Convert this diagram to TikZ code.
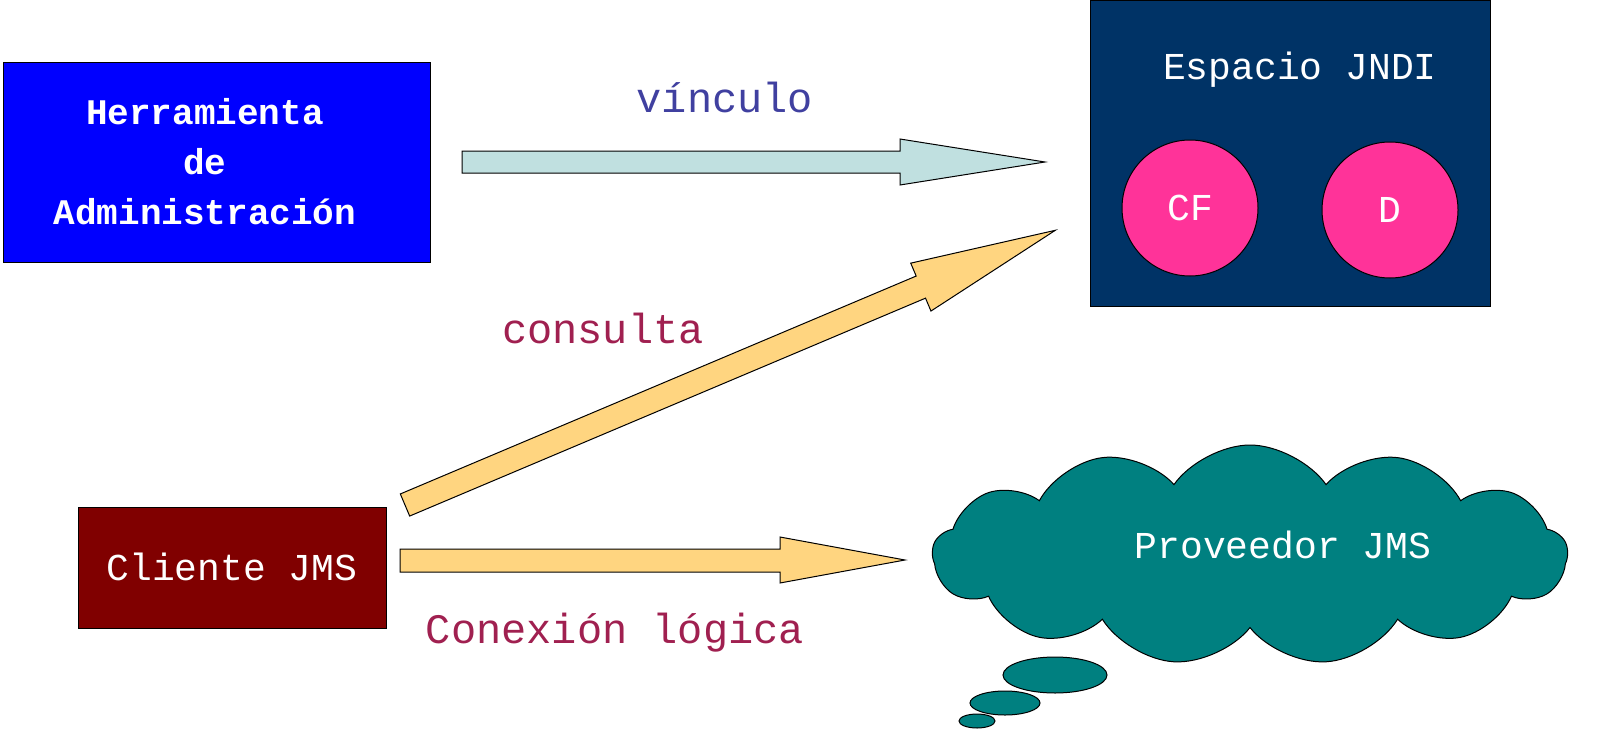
\documentclass[tikz,border=0pt]{standalone}
\usepackage{fontspec}
\setmainfont{Liberation Mono}
\usetikzlibrary{shapes.symbols,shapes.geometric}
\definecolor{adminblue}{HTML}{0000FF}
\definecolor{jndinavy}{HTML}{003366}
\definecolor{circpink}{HTML}{FF3399}
\definecolor{clired}{HTML}{800000}
\definecolor{cyanarrow}{HTML}{C0E0E0}
\definecolor{yelarrow}{HTML}{FFD580}
\definecolor{cloudteal}{HTML}{008080}
\definecolor{lblblue}{HTML}{4040A0}
\definecolor{lblred}{HTML}{A02050}
\tikzset{
  box/.style={draw=black, line width=1pt, inner sep=0},
  wtxt/.style={text=white, font=\fontsize{38}{44}\selectfont, align=center},
  lbl/.style={font=\fontsize{42}{48}\selectfont},
  arr/.style={draw=black, line width=1pt},
}
\begin{document}
\begin{tikzpicture}[x=1pt,y=-1pt]
\useasboundingbox (0,0) rectangle (1610,750);
% boxes
\node[box, fill=adminblue, minimum width=427pt, minimum height=200pt] (admin) at (216.5,162) {};
\node[wtxt, font=\fontsize{36}{50}\selectfont\bfseries] (admint) at (205,162) {Herramienta\\de\\Administración};
\node[box, fill=jndinavy, minimum width=400pt, minimum height=306pt] (jndi) at (1290,153) {};
\node[wtxt] (jndit) at (1300,70) {Espacio JNDI};
\node[box, circle, fill=circpink, minimum size=136pt] (cf) at (1190,208) {};
\node[wtxt] at (cf) {CF};
\node[box, circle, fill=circpink, minimum size=136pt] (d) at (1390,210) {};
\node[wtxt] at (d) {D};
\node[box, fill=clired, minimum width=308pt, minimum height=121pt] (cli) at (232,567.5) {};
\node[wtxt] (clit) at (232,567) {Cliente JMS};
% cloud
\node[cloud, cloud puffs=13, cloud puff arc=110, aspect=2.7, draw=black, line width=1pt, fill=cloudteal, minimum width=635pt, minimum height=220pt] (prov) at (1250,555) {};
\node[wtxt] at (1283,545) {Proveedor JMS};
\node[ellipse, draw=black, line width=1pt, fill=cloudteal, minimum width=104pt, minimum height=36pt] (b1) at (1055,675) {};
\node[ellipse, draw=black, line width=1pt, fill=cloudteal, minimum width=70pt, minimum height=24pt] (b2) at (1005,703) {};
\node[ellipse, draw=black, line width=1pt, fill=cloudteal, minimum width=36pt, minimum height=14pt] (b3) at (977,721) {};
% arrows
\draw[arr, fill=cyanarrow] (462,151) -- (900,151) -- (900,139) -- (1045,162) -- (900,185) -- (900,173) -- (462,173) -- cycle;
\draw[arr, fill=yelarrow] (400,549) -- (780,549) -- (780,537) -- (905,560) -- (780,583) -- (780,572) -- (400,572) -- cycle;
\begin{scope}[shift={(405,505)}, rotate=22.9]
\draw[arr, fill=yelarrow] (0,-12) -- (560,-12) -- (560,-26) -- (706,0) -- (560,26) -- (560,12) -- (0,12) -- cycle;
\end{scope}
% labels
\node[lbl, text=lblblue] (l1) at (725,97) {vínculo};
\node[lbl, text=lblred] (l2) at (603,328) {consulta};
\node[lbl, text=lblred] (l3) at (615,633) {Conexión lógica};
\end{tikzpicture}
\end{document}
